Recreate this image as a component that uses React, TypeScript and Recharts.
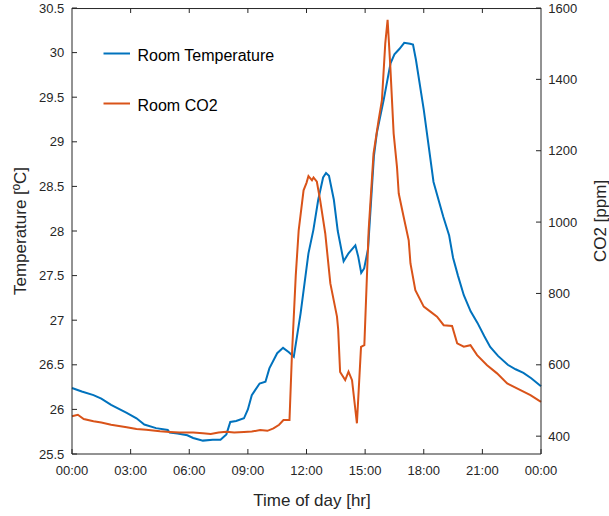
import * as React from 'react';
import { LineChart, Line, XAxis, YAxis, Legend, ReferenceLine } from 'recharts';

// Room temperature, hours since midnight and degC
const tempHours = [
  0, 0.5, 1.1, 1.5, 2.0, 2.8, 3.3, 3.7, 4.3, 4.9, 5.0, 5.4, 5.9, 6.2, 6.7, 7.2, 7.6, 7.9, 8.1,
  8.4, 8.8, 9.0, 9.2, 9.6, 9.9, 10.1, 10.5, 10.8, 11.1, 11.35, 11.7, 12.1, 12.35, 12.6, 12.85,
  13.0, 13.15, 13.4, 13.6, 13.9, 14.15, 14.5, 14.65, 14.8, 14.95, 15.15, 15.45, 15.6, 15.95,
  16.3, 16.5, 16.75, 17.0, 17.3, 17.45, 17.6, 18.0, 18.5, 19.0, 19.3, 19.5, 19.75, 20.05, 20.4,
  20.75, 21.1, 21.4, 21.8, 22.3, 22.7, 23.1, 23.5, 24,
];
const tempValues = [
  26.24, 26.2, 26.16, 26.12, 26.05, 25.96, 25.9, 25.83, 25.79, 25.77, 25.74, 25.73, 25.71, 25.68,
  25.65, 25.66, 25.66, 25.72, 25.86, 25.87, 25.9, 26.0, 26.16, 26.29, 26.31, 26.46, 26.63, 26.69,
  26.64, 26.59, 27.08, 27.75, 28.01, 28.35, 28.6, 28.65, 28.62, 28.35, 28.0, 27.66, 27.75, 27.84,
  27.71, 27.53, 27.58, 27.8, 28.84, 29.1, 29.47, 29.88, 29.98, 30.04, 30.11, 30.1, 30.09, 29.92,
  29.36, 28.55, 28.16, 27.95, 27.7, 27.5, 27.28, 27.1, 26.97, 26.82, 26.7, 26.6, 26.5, 26.45,
  26.41, 26.35, 26.26,
];

// Room CO2, hours since midnight and ppm
const co2Hours = [
  0, 0.3, 0.6, 1.1, 1.5, 2.0, 2.8, 3.3, 3.8, 4.5, 5.0, 5.5, 6.2, 6.7, 7.1, 7.5, 7.9, 8.3, 8.8,
  9.2, 9.63, 10.0, 10.31, 10.6, 10.82, 11.13, 11.25, 11.45, 11.6, 11.85, 12.0, 12.1, 12.28, 12.36,
  12.53, 12.7, 12.96, 13.22, 13.56, 13.62, 13.72, 13.98, 14.15, 14.33, 14.58, 14.79, 14.96, 15.18,
  15.43, 15.69, 15.86, 16.03, 16.15, 16.29, 16.46, 16.63, 16.72, 16.97, 17.23, 17.32, 17.57, 18.0,
  18.34, 18.68, 19.02, 19.45, 19.71, 20.05, 20.39, 20.73, 21.24, 21.75, 22.27, 22.95, 23.46, 24,
];
const co2Values = [
  456, 460, 448, 442, 438, 432, 425, 420, 418, 414, 412, 410, 410, 408, 406, 410, 412, 410, 412,
  413, 417, 415, 422, 432, 445, 445, 622, 850, 977, 1089, 1110, 1129, 1117, 1125, 1113, 1061, 968,
  828, 735, 700, 580, 557, 581, 557, 436, 650, 655, 977, 1192, 1286, 1342, 1500, 1567, 1435, 1248,
  1155, 1080, 1015, 949, 884, 809, 763, 749, 735, 711, 709, 660, 651, 655, 627, 599, 576, 548, 529,
  515, 496,
];

const hourTicks = [0, 3, 6, 9, 12, 15, 18, 21, 24];
const tempTicks = [25.5, 26, 26.5, 27, 27.5, 28, 28.5, 29, 29.5, 30, 30.5];
const co2Ticks = [400, 600, 800, 1000, 1200, 1400, 1600];
const seriesNames = ['Room Temperature', 'Room CO2'];

const tempData = tempHours.map((hour, i) => ({ hour, temp: tempValues[i] }));
const co2Data = co2Hours.map((hour, i) => ({ hour, co2: co2Values[i] }));

const AXIS = '#262626';
const FONT = '"Liberation Sans", Arial, Helvetica, sans-serif';
const TICK_LEN = 5;
const CO2_MAX = 1600;
const TEMP_TOP_EDGE = 30.494; // half a pixel under the top so the stroke is not clipped
const TOP_TICK = 14; // ~5px in ppm

const fmtHour = (h: number) => `${String(h % 24).padStart(2, '0')}:00`;

// ticks point inward, MATLAB style
function BottomTick({ x, y, payload }: any) {
  return (
    <g>
      <line x1={x} x2={x} y1={y} y2={y - TICK_LEN} stroke={AXIS} />
      <text x={x} y={y + 20.5} textAnchor="middle" fontSize={13} fontFamily={FONT} fill={AXIS}>
        {fmtHour(payload.value)}
      </text>
    </g>
  );
}

function LeftTick({ x, y, payload }: any) {
  return (
    <g>
      <line x1={x} x2={x + TICK_LEN} y1={y} y2={y} stroke={AXIS} />
      <text x={x - 7.7} y={y + 4.6} textAnchor="end" fontSize={13} fontFamily={FONT} fill={AXIS}>
        {payload.value}
      </text>
    </g>
  );
}

function RightTick({ x, y, payload }: any) {
  return (
    <g>
      <line x1={x} x2={x - TICK_LEN} y1={y} y2={y} stroke={AXIS} />
      <text x={x + 7.3} y={y + 4.6} textAnchor="start" fontSize={13} fontFamily={FONT} fill={AXIS}>
        {payload.value}
      </text>
    </g>
  );
}

function LegendBox({ payload }: any) {
  const items = [...(payload || [])].sort(
    (a: any, b: any) => seriesNames.indexOf(a.value) - seriesNames.indexOf(b.value),
  );
  return (
    <svg width={200} height={80}>
      {items.map((item: any, i: number) => (
        <g key={item.value}>
          <line x1={3.5} x2={30} y1={13.5 + i * 50} y2={13.5 + i * 50} stroke={item.color} strokeWidth={2} />
          <text x={37.5} y={21 + i * 50} fontSize={16} fontFamily={FONT} fill="#000">
            {item.value}
          </text>
        </g>
      ))}
    </svg>
  );
}

export default function App() {
  return (
    <div style={{ position: 'absolute', left: 0, top: 0, background: '#fff' }}>
      <LineChart width={609} height={516} margin={{ top: 8, right: 0, bottom: 0, left: 0 }}>
        <XAxis
          dataKey="hour"
          type="number"
          domain={[0, 24]}
          ticks={hourTicks}
          interval={0}
          height={62}
          tickSize={0}
          tickMargin={0}
          tickLine={false}
          tick={<BottomTick />}
          axisLine={{ stroke: AXIS }}
          label={{
            content: () => (
              <text x={312} y={506} textAnchor="middle" fontSize={17} fontFamily={FONT} fill={AXIS}>
                Time of day [hr]
              </text>
            ),
          }}
        />
        <YAxis
          yAxisId="t"
          domain={[25.5, 30.5]}
          ticks={tempTicks}
          interval={0}
          width={72}
          tickSize={0}
          tickMargin={0}
          tickLine={false}
          tick={<LeftTick />}
          axisLine={{ stroke: AXIS }}
          label={{
            content: () => (
              <text
                transform="translate(25.5, 231) rotate(-90)"
                textAnchor="middle"
                fontSize={17}
                fontFamily={FONT}
                fill={AXIS}
              >
                Temperature [ºC]
              </text>
            ),
          }}
        />
        <YAxis
          yAxisId="c"
          orientation="right"
          domain={[350, CO2_MAX]}
          ticks={co2Ticks}
          interval={0}
          width={68}
          tickSize={0}
          tickMargin={0}
          tickLine={false}
          tick={<RightTick />}
          axisLine={{ stroke: AXIS }}
          label={{
            content: () => (
              <text
                transform="translate(606, 221) rotate(-90)"
                textAnchor="middle"
                fontSize={17}
                fontFamily={FONT}
                fill={AXIS}
              >
                CO2 [ppm]
              </text>
            ),
          }}
        />
        {/* top edge of the box with its inward ticks */}
        <ReferenceLine yAxisId="t" y={TEMP_TOP_EDGE} stroke={AXIS} ifOverflow="visible" />
        {hourTicks.slice(1, -1).map((h) => (
          <ReferenceLine
            key={h}
            yAxisId="c"
            ifOverflow="visible"
            segment={[
              { x: h, y: CO2_MAX },
              { x: h, y: CO2_MAX - TOP_TICK },
            ]}
            stroke={AXIS}
          />
        ))}
        <Legend
          layout="vertical"
          align="center"
          verticalAlign="middle"
          content={<LegendBox />}
          wrapperStyle={{ position: 'absolute', left: 100, top: 40, width: 200, height: 80 }}
        />
        <Line
          yAxisId="t"
          data={tempData}
          dataKey="temp"
          name={seriesNames[0]}
          stroke="#0072BD"
          strokeWidth={2}
          dot={false}
          activeDot={false}
          type="linear"
          isAnimationActive={false}
        />
        <Line
          yAxisId="c"
          data={co2Data}
          dataKey="co2"
          name={seriesNames[1]}
          stroke="#D95319"
          strokeWidth={2}
          dot={false}
          activeDot={false}
          type="linear"
          isAnimationActive={false}
        />
      </LineChart>
    </div>
  );
}
